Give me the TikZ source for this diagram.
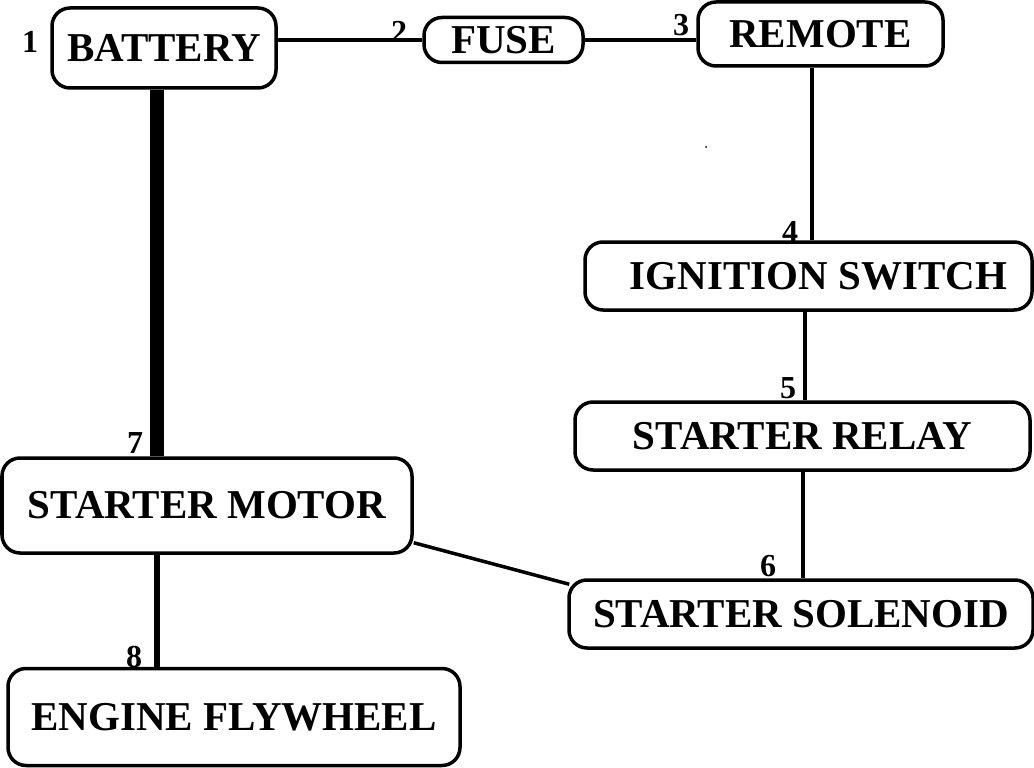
\documentclass[tikz,border=0pt]{standalone}
\usepackage{fontspec}
\setmainfont{Liberation Serif}
\usetikzlibrary{calc}
\begin{document}
\begin{tikzpicture}[x=1pt,y=-1pt,
  box/.style={draw, line width=3.5pt, rounded corners=18pt, inner sep=0pt,
    font=\fontsize{41}{46}\selectfont\bfseries},
  num/.style={inner sep=0pt, font=\fontsize{32}{36}\selectfont\bfseries},
  wire/.style={line width=3.5pt}]
\useasboundingbox (0,0) rectangle (1034,768);
% boxes
\node[box, minimum width=224pt, minimum height=80pt] (bat) at (164,48) {BATTERY};
\node[box, minimum width=159pt, minimum height=45pt] (fuse) at (503.5,40) {FUSE};
\node[box, minimum width=245pt, minimum height=64pt] (rem) at (820.5,34) {REMOTE};
\node[box, minimum width=447pt, minimum height=68pt] (ign) at (808.5,276) {\hspace*{20pt}IGNITION SWITCH};
\node[box, minimum width=455pt, minimum height=68pt] (rel) at (802.5,436) {STARTER RELAY};
\node[box, minimum width=410pt, minimum height=95pt] (mot) at (207,505.5) {STARTER MOTOR};
\node[box, minimum width=464pt, minimum height=68pt] (sol) at (801,614) {STARTER SOLENOID};
\node[box, minimum width=452pt, minimum height=97pt] (fly) at (234,717) {ENGINE FLYWHEEL};
% numbers
\node[num] (n1) at (30,42) {1};
\node[num] (n2) at (399,32) {2};
\node[num] (n3) at (681,25) {3};
\node[num] (n4) at (790,232) {4};
\node[num] (n5) at (788,388) {5};
\node[num] (n6) at (768,566) {6};
\node[num] (n7) at (135,443) {7};
\node[num] (n8) at (134,657) {8};
% helper x positions
\coordinate (x1) at (812,0);
\coordinate (x2) at (805,0);
\coordinate (x3) at (803,0);
\coordinate (x4) at (157,0);
% connectors
\draw[wire] (bat.east |- fuse.west) -- (fuse.west);
\draw[wire] (fuse.east) -- (fuse.east -| rem.west);
\draw[wire] (rem.south -| x1) -- (ign.north -| x1);
\draw[wire] (ign.south -| x2) -- (rel.north -| x2);
\draw[wire] (rel.south -| x3) -- (sol.north -| x3);
\draw[line width=14pt] (bat.south -| x4) -- (mot.north -| x4);
\draw[line width=6.5pt] (mot.south -| x4) -- (fly.north -| x4);
\draw[wire] ($(mot.south east)+(0,-12)$) -- ($(sol.north west)+(2,6)$);
% small speck
\fill (706,147) circle (1pt);
\end{tikzpicture}
\end{document}
